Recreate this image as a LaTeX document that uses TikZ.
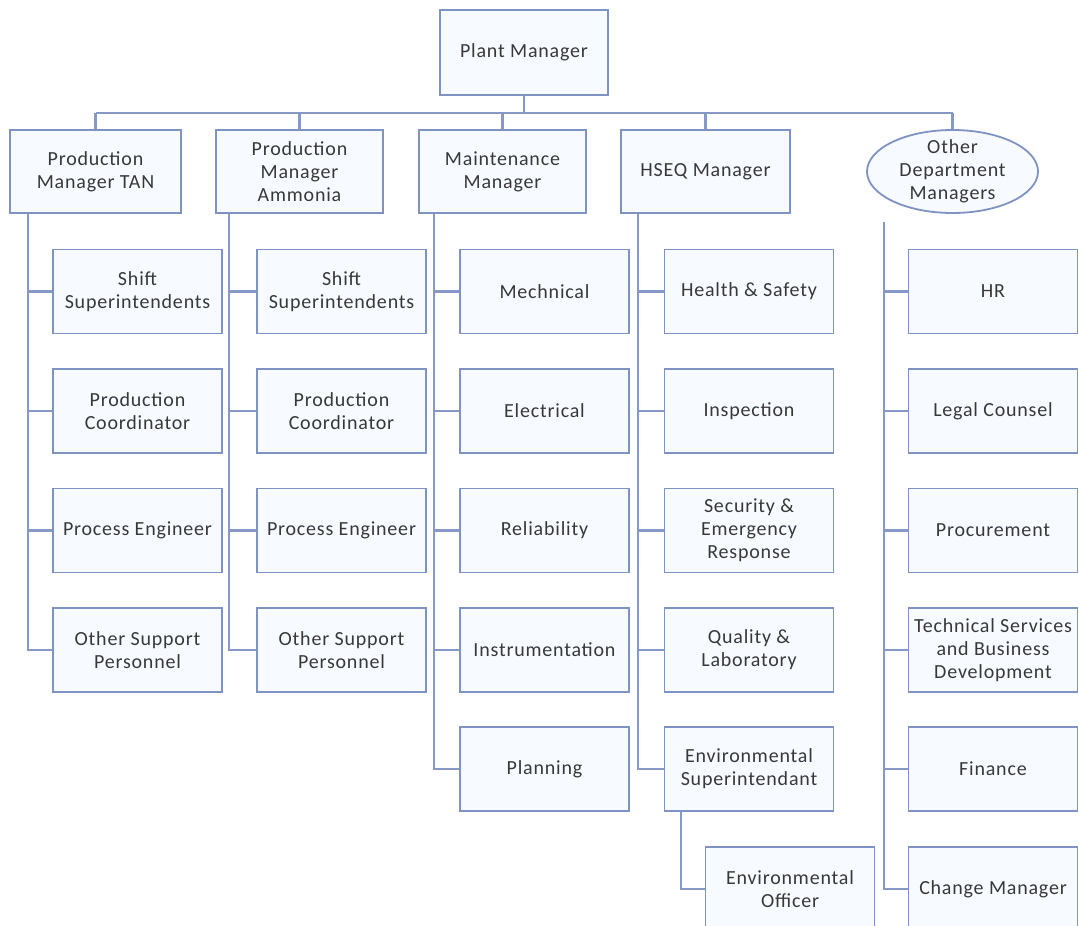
\documentclass[tikz,border=0pt]{standalone}
\usepackage{fontspec}
\setmainfont{Carlito}[LetterSpace=4.0]
\usetikzlibrary{shapes.geometric}
\definecolor{bcol}{HTML}{7F93C2}
\definecolor{lcol}{HTML}{8598C6}
\definecolor{fcol}{HTML}{F7FAFF}
\definecolor{tcol}{HTML}{383838}
\begin{document}
\begin{tikzpicture}[x=1pt,y=-1pt,
  box/.style={draw=bcol, line width=1.8pt, fill=fcol, rectangle, minimum width=169pt, minimum height=84pt,
    inner sep=0pt, align=center, text=tcol, font=\fontsize{20}{23}\selectfont},
  ellbox/.style={draw=bcol, line width=1.8pt, fill=fcol, ellipse, minimum width=171pt, minimum height=83pt, inner sep=0pt},
  txt/.style={inner sep=0pt, align=center, text=tcol, font=\fontsize{20}{23}\selectfont},
  conn/.style={draw=lcol, line width=2.1pt}]
\useasboundingbox (0,0) rectangle (1079,926);
\fill[white] (0,0) rectangle (1079,926);
\clip (0,0) rectangle (1079,926);

% top
\node[box, minimum width=168pt, minimum height=85pt] (pm) at (524,52.5) {Plant Manager};
\coordinate (bus) at (0,113);

% level 1
\node[box, minimum width=171pt, minimum height=83pt] (tan) at (95.5,171.5) {Production\\Manager TAN};
\node[box, minimum width=167pt, minimum height=83pt] (amm) at (299.5,171.5) {Production\\Manager\\Ammonia};
\node[box, minimum width=167pt, minimum height=83pt] (mm) at (502.5,171.5) {Maintenance\\Manager};
\node[box, minimum width=169pt, minimum height=83pt] (hseq) at (705.5,171.5) {HSEQ Manager};
\node[ellbox] (odm) at (952.5,171.5) {};
\node[txt] (odmt) at (odm.center) {Other\\Department\\Managers};

% column 1
\node[box] (a1) at (137.5,291.5) {Shift\\Superintendents};
\node[box] (a2) at (137.5,411) {Production\\Coordinator};
\node[box] (a3) at (137.5,530.5) {Process Engineer};
\node[box] (a4) at (137.5,650) {Other Support\\Personnel};
% column 2
\node[box] (b1) at (341.5,291.5) {Shift\\Superintendents};
\node[box] (b2) at (341.5,411) {Production\\Coordinator};
\node[box] (b3) at (341.5,530.5) {Process Engineer};
\node[box] (b4) at (341.5,650) {Other Support\\Personnel};
% column 3
\node[box] (c1) at (544.5,291.5) {Mechnical};
\node[box] (c2) at (544.5,411) {Electrical};
\node[box] (c3) at (544.5,530.5) {Reliability};
\node[box] (c4) at (544.5,650) {Instrumentation};
\node[box] (c5) at (544.5,769) {Planning};
% column 4
\node[box] (d1) at (749,291.5) {Health \& Safety};
\node[box] (d2) at (749,411) {Inspection};
\node[box] (d3) at (749,530.5) {Security \&\\Emergency\\Response};
\node[box] (d4) at (749,650) {Quality \&\\Laboratory};
\node[box] (d5) at (749,769) {Environmental\\Superintendant};
\node[box] (d6) at (790,889) {Environmental\\Officer};
% column 5
\node[box] (e1) at (993,291.5) {HR};
\node[box] (e2) at (993,411) {Legal Counsel};
\node[box] (e3) at (993,530.5) {Procurement};
\node[box] (e4) at (993,650) {Technical Services\\and Business\\Development};
\node[box] (e5) at (993,769) {Finance};
\node[box] (e6) at (993,889) {Change Manager};

% top connectors
\draw[conn] (pm.south) -- (pm.south |- bus);
\draw[conn] (tan.north |- bus) -- (odm.north |- bus);
\foreach \n in {tan,amm,mm,hseq,odm} \draw[conn] (\n.north) -- (\n.north |- bus);

% trunks
\coordinate (t1) at ([xshift=19pt]tan.south west);
\coordinate (t2) at ([xshift=14pt]amm.south west);
\coordinate (t3) at ([xshift=16pt]mm.south west);
\coordinate (t4) at ([xshift=18pt]hseq.south west);
\coordinate (t5) at (884,222);
\coordinate (t6) at ([xshift=17.5pt]d5.south west);

\draw[conn] (t1) |- (a4.west);
\foreach \n in {a1,a2,a3} \draw[conn] (\n.west -| t1) -- (\n.west);
\draw[conn] (t2) |- (b4.west);
\foreach \n in {b1,b2,b3} \draw[conn] (\n.west -| t2) -- (\n.west);
\draw[conn] (t3) |- (c5.west);
\foreach \n in {c1,c2,c3,c4} \draw[conn] (\n.west -| t3) -- (\n.west);
\draw[conn] (t4) |- (d5.west);
\foreach \n in {d1,d2,d3,d4} \draw[conn] (\n.west -| t4) -- (\n.west);
\draw[conn] (t6) |- (d6.west);
\draw[conn] (t5) |- (e6.west);
\foreach \n in {e1,e2,e3,e4,e5} \draw[conn] (\n.west -| t5) -- (\n.west);
\end{tikzpicture}
\end{document}
